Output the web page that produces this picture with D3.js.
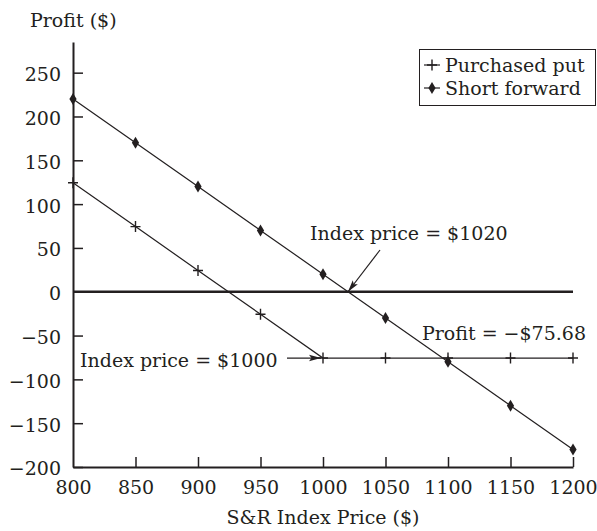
<!DOCTYPE html>
<html>
<head>
<meta charset="utf-8">
<script src="https://cdn.jsdelivr.net/npm/d3@7"></script>
<style>
  body { margin: 0; background: #fff; }
  svg { display: block; }
  text { font-family: "DejaVu Serif", serif; fill: #231f20; }
</style>
</head>
<body>
<svg width="597" height="531"></svg>
<script>
let svg = d3.select("svg");
const ink = "#231f20";
const fontSize = 19;

const prices = [800, 850, 900, 950, 1000, 1050, 1100, 1150, 1200];
const putProfit = [124.32, 74.32, 24.32, -25.68, -75.68, -75.68, -75.68, -75.68, -75.68];
const forwardProfit = [220, 170, 120, 70, 20, -30, -80, -130, -180];
const xTicks = [800, 850, 900, 950, 1000, 1050, 1100, 1150, 1200];
const yTicks = [-200, -150, -100, -50, 0, 50, 100, 150, 200, 250];
const seriesNames = ["Purchased put", "Short forward"];

let x = d3.scaleLinear().domain([800, 1200]).range([73, 573]);
let y = d3.scaleLinear().domain([-200, 285]).range([467, 42]);

let minus = s => String(s).replace("-", "\u2212");

// axes
let xAxis = svg.append("g")
    .attr("transform", `translate(0,${y(-200)})`)
    .call(d3.axisBottom(x).tickValues(xTicks).tickSize(-10).tickSizeOuter(0).tickPadding(14)
      .tickFormat(d3.format("d")));
let yAxis = svg.append("g")
    .attr("transform", `translate(${x(800)},0)`)
    .call(d3.axisLeft(y).tickValues(yTicks).tickSize(-10).tickSizeOuter(0).tickPadding(12)
      .tickFormat(minus));

for (let ax of [xAxis, yAxis]) {
  ax.attr("font-family", null).attr("font-size", null);
  ax.select(".domain").attr("stroke", ink).attr("stroke-width", 2);
  ax.selectAll(".tick line").attr("stroke", ink).attr("stroke-width", 1.5);
  ax.selectAll(".tick text").style("font-size", fontSize + "px").attr("fill", ink);
}
yAxis.selectAll(".tick text").attr("dy", "0.42em");
xAxis.selectAll(".tick").filter(d => d === 800).select("line").remove();

// zero line
svg.append("line")
  .attr("x1", x(800)).attr("x2", x(1200))
  .attr("y1", y(0)).attr("y2", y(0))
  .attr("stroke", ink).attr("stroke-width", 2.5);

// series lines
let line = d3.line().x(d => x(d[0])).y(d => y(d[1]));
let putData = prices.map((p, i) => [p, putProfit[i]]);
let fwdData = prices.map((p, i) => [p, forwardProfit[i]]);

svg.append("path").datum(putData).attr("d", line)
  .attr("fill", "none").attr("stroke", ink).attr("stroke-width", 1.2);
svg.append("path").datum(fwdData).attr("d", line)
  .attr("fill", "none").attr("stroke", ink).attr("stroke-width", 1.2);

const plusPath = "M-5,0H5M0,-5.5V5.5";
const diamondPath = "M0,-6L3.6,0L0,6L-3.6,0Z";

svg.append("g").selectAll("path").data(putData).join("path")
  .attr("transform", d => `translate(${x(d[0])},${y(d[1])})`)
  .attr("d", plusPath).attr("fill", "none").attr("stroke", ink).attr("stroke-width", 1.4);
svg.append("g").selectAll("path").data(fwdData).join("path")
  .attr("transform", d => `translate(${x(d[0])},${y(d[1])})`)
  .attr("d", diamondPath).attr("fill", ink);

// axis titles
svg.append("text").attr("x", 30).attr("y", 27)
  .style("font-size", fontSize + "px").text("Profit ($)");
svg.append("text").attr("x", (x(800) + x(1200)) / 2).attr("y", 524)
  .attr("text-anchor", "middle").style("font-size", fontSize + "px")
  .text("S&R Index Price ($)");

// arrowhead
svg.append("defs").append("marker")
  .attr("id", "arrow").attr("viewBox", "0 -5 12 10")
  .attr("refX", 12).attr("refY", 0)
  .attr("markerWidth", 12).attr("markerHeight", 10)
  .attr("markerUnits", "userSpaceOnUse").attr("orient", "auto")
  .append("path").attr("d", "M0,-3.2L12,0L0,3.2L2.5,0Z").attr("fill", ink);

// annotations
svg.append("text").attr("x", 310).attr("y", 240)
  .style("font-size", fontSize + "px").text("Index price = $1020");
svg.append("line")
  .attr("x1", 380).attr("y1", 250).attr("x2", x(1020)).attr("y2", y(0))
  .attr("stroke", ink).attr("stroke-width", 1.2).attr("marker-end", "url(#arrow)");

svg.append("text").attr("x", 586).attr("y", 340).attr("text-anchor", "end")
  .style("font-size", fontSize + "px").text("Profit = \u2212$75.68");

svg.append("text").attr("x", 80).attr("y", 367)
  .style("font-size", fontSize + "px").text("Index price = $1000");
svg.append("line")
  .attr("x1", 287).attr("y1", y(-75.68)).attr("x2", x(1000) - 2).attr("y2", y(-75.68))
  .attr("stroke", ink).attr("stroke-width", 1.2).attr("marker-end", "url(#arrow)");

// legend
let legend = svg.append("g");
legend.append("rect")
  .attr("x", 419.5).attr("y", 49.5).attr("width", 176).attr("height", 56)
  .attr("fill", "#fff").attr("stroke", ink).attr("stroke-width", 1);
let rows = legend.selectAll("g.row").data(seriesNames).join("g")
  .attr("class", "row")
  .attr("transform", (d, i) => `translate(432,${65 + i * 23})`);
rows.append("line").attr("x1", -8).attr("x2", 8)
  .attr("stroke", ink).attr("stroke-width", 1.2);
rows.append("path")
  .attr("d", (d, i) => i === 0 ? plusPath : diamondPath)
  .attr("fill", (d, i) => i === 0 ? "none" : ink)
  .attr("stroke", (d, i) => i === 0 ? ink : "none").attr("stroke-width", 1.4);
rows.append("text").attr("x", 13).attr("y", 0).attr("dy", "0.37em")
  .style("font-size", fontSize + "px").text(d => d);
</script>
</body>
</html>
